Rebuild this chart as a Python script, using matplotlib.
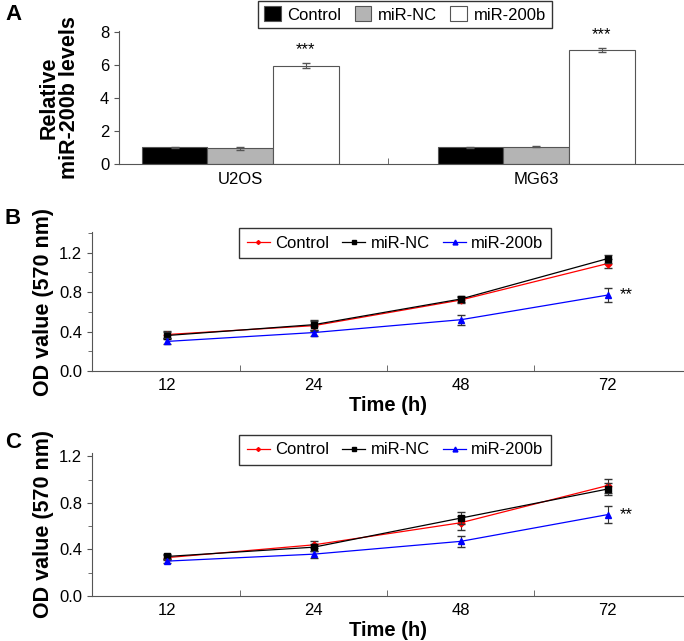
import numpy as np
import matplotlib.pyplot as plt
from matplotlib.lines import Line2D

plt.rcParams['font.family'] = ['Liberation Sans', 'DejaVu Sans']

# Panel A data
cells = ["U2OS", "MG63"]
groups = ["Control", "miR-NC", "miR-200b"]
rel_levels = [[1.0, 1.0], [0.95, 1.05], [5.95, 6.9]]
rel_err = [[0.03, 0.03], [0.08, 0.05], [0.15, 0.15]]
bar_colors = ["black", "#b4b4b4", "white"]

# Panel B / C data
times = ["12", "24", "48", "72"]
b_control = [0.37, 0.46, 0.72, 1.09]
b_control_err = [0.04, 0.05, 0.03, 0.05]
b_nc = [0.36, 0.47, 0.73, 1.14]
b_nc_err = [0.04, 0.05, 0.03, 0.04]
b_200b = [0.30, 0.39, 0.52, 0.77]
b_200b_err = [0.03, 0.03, 0.05, 0.07]

c_control = [0.33, 0.44, 0.63, 0.95]
c_control_err = [0.02, 0.03, 0.06, 0.06]
c_nc = [0.34, 0.42, 0.67, 0.92]
c_nc_err = [0.02, 0.03, 0.05, 0.05]
c_200b = [0.30, 0.36, 0.47, 0.70]
c_200b_err = [0.02, 0.03, 0.05, 0.07]

fig = plt.figure(figsize=(6.84, 6.41), dpi=100)
W, H = 684, 641


def box(l, t, r, b):
    return [l / W, 1 - b / H, (r - l) / W, (b - t) / H]


def style(ax):
    for s in ["top", "right"]:
        ax.spines[s].set_visible(False)
    for s in ["left", "bottom"]:
        ax.spines[s].set_color("#555555")
    ax.tick_params(labelsize=12, color="#555555")


# ---- A ----
axA = fig.add_axes(box(119, 31, 684, 164))
style(axA)
x = np.arange(len(cells))
w = 0.222
for i, g in enumerate(groups):
    axA.bar(x + (i - 1) * w, rel_levels[i], w, yerr=rel_err[i], color=bar_colors[i],
            edgecolor="#555555", linewidth=0.8, label=g,
            error_kw=dict(ecolor="#555555", elinewidth=0.8, capsize=3))
for j in range(len(cells)):
    axA.text(x[j] + w, rel_levels[2][j] + rel_err[2][j] + 0.35, "***",
             ha="center", va="bottom", fontsize=12)
axA.set_xlim(-0.41, 1.5)
axA.set_ylim(0, 8.05)
axA.set_yticks([0, 2, 4, 6, 8])
axA.set_xticks(x)
axA.set_xticklabels(cells)
axA.set_xticks([0.5], minor=True)
axA.tick_params(axis="x", which="major", length=0, pad=6)
axA.tick_params(axis="x", which="minor", direction="in", length=4, color="#555555")
axA.set_ylabel("Relative\nmiR-200b levels", fontsize=15.5, fontweight="bold", labelpad=14,
               linespacing=1.0)
axA.legend(loc="upper left", bbox_to_anchor=(258 / W, 1 - 0.5 / H),
           bbox_transform=fig.transFigure, ncol=3, fontsize=12, frameon=True,
           fancybox=False, edgecolor="black", handlelength=1.0, handleheight=1.0,
           handletextpad=0.4, columnspacing=0.8, borderaxespad=0, borderpad=0.35)
fig.text(5 / W, 1 - 14 / H, "A", fontsize=16, fontweight="bold", va="center")


def line_panel(ax, letter, ctrl, ctrl_e, nc, nc_e, mir, mir_e, ytop, legend_top, letter_y):
    style(ax)
    xs = np.arange(len(times))
    series = [(ctrl, ctrl_e, "red", "D", 3.5, "Control"),
              (nc, nc_e, "black", "s", 5, "miR-NC"),
              (mir, mir_e, "blue", "^", 5, "miR-200b")]
    handles = []
    for vals, err, col, mk, ms, name in series:
        ax.errorbar(xs, vals, yerr=err, fmt="none", ecolor="#333333", elinewidth=0.8,
                    capsize=3)
        ax.plot(xs, vals, color=col, marker=mk, markersize=ms, linewidth=0.9)
        handles.append(Line2D([], [], color=col, marker=mk, markersize=ms - 1.5,
                              linewidth=0.9, label=name))
    ax.text(xs[-1] + 0.08, mir[-1], "**", fontsize=12, va="center", ha="left")
    ax.set_xlim(-0.51, 3.52)
    ax.set_ylim(0, ytop)
    ax.set_xticks(xs)
    ax.set_xticklabels(times)
    ax.set_xticks([0.5, 1.5, 2.5], minor=True)
    ax.tick_params(axis="x", which="major", length=0, pad=5)
    ax.tick_params(axis="x", which="minor", direction="in", length=4, color="#555555")
    ax.set_yticks([0.0, 0.4, 0.8, 1.2])
    ax.set_yticklabels(["0.0", "0.4", "0.8", "1.2"])
    ax.set_yticks(np.arange(0.2, ytop + 0.01, 0.2), minor=True)
    ax.tick_params(axis="y", which="minor", length=3, color="#555555")
    ax.set_xlabel("Time (h)", fontsize=14.5, fontweight="bold", labelpad=2)
    ax.set_ylabel("OD value (570 nm)", fontsize=15.5, fontweight="bold", labelpad=4)
    ax.legend(handles=handles, loc="upper left", bbox_to_anchor=(239 / W, 1 - legend_top / H),
              bbox_transform=fig.transFigure, ncol=3, fontsize=12, frameon=True,
              fancybox=False, edgecolor="black", handlelength=1.4,
              handletextpad=0.3, columnspacing=0.8, borderaxespad=0, borderpad=0.45)
    fig.text(5 / W, 1 - letter_y / H, letter, fontsize=16, fontweight="bold",
             va="center")


# ---- B ----
axB = fig.add_axes(box(92, 232, 684, 371))
line_panel(axB, "B", b_control, b_control_err, b_nc, b_nc_err, b_200b, b_200b_err,
           1.41, 228, 219)

# ---- C ----
axC = fig.add_axes(box(92, 453, 684, 596))
line_panel(axC, "C", c_control, c_control_err, c_nc, c_nc_err, c_200b, c_200b_err,
           1.23, 435, 442)

fig.savefig("out.png", dpi=100)
